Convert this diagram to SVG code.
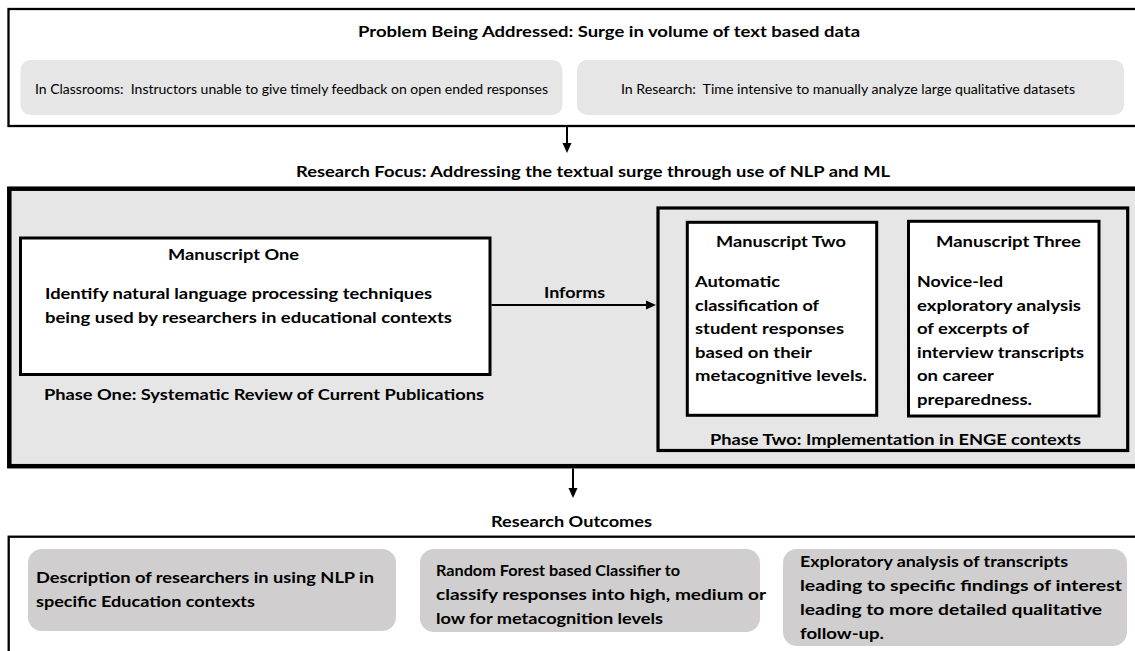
<svg xmlns="http://www.w3.org/2000/svg" width="1135" height="651" viewBox="0 0 1135 651">
  <defs>
    <style>
      text { font-family: Lato, "Liberation Sans", sans-serif; fill: #000; }
      .b { font-weight: 700; font-size: 15.5px; }
      .r { font-weight: 400; font-size: 13.5px; }
      .frame { fill: #fff; stroke: #000; stroke-width: 2.3; }
      .focus { fill: #e7e6e6; stroke: #000; stroke-width: 4.5; }
      .card { fill: #fff; stroke: #000; stroke-width: 3; }
      .phase { fill: #e7e6e6; stroke: #000; stroke-width: 3.2; }
      .pill { fill: #e7e6e6; }
      .pill2 { fill: #d0cece; }
      .link { fill: none; stroke: #000; stroke-width: 2; }
    </style>
    <marker id="head" markerUnits="userSpaceOnUse" markerWidth="10" markerHeight="10" viewBox="0 0 10 10" refX="2" refY="5" orient="auto">
      <path d="M0,0.5 L10,5 L0,9.5 z" fill="#000"/>
    </marker>
  </defs>

  <!-- Problem statement -->
  <g id="problem">
    <rect class="frame" x="8.5" y="9" width="1135" height="117"/>
    <text class="b" x="358" y="36.5" textLength="502" lengthAdjust="spacingAndGlyphs">Problem Being Addressed: Surge in volume of text based data</text>
  </g>
  <g id="problem-classrooms">
    <rect class="pill" x="20.5" y="60" width="542" height="55" rx="10"/>
    <text class="r" x="35" y="94" textLength="513" lengthAdjust="spacingAndGlyphs" xml:space="preserve">In Classrooms:  Instructors unable to give timely feedback on open ended responses</text>
  </g>
  <g id="problem-research">
    <rect class="pill" x="577" y="60" width="547" height="55" rx="10"/>
    <text class="r" x="621" y="94" textLength="454" lengthAdjust="spacingAndGlyphs" xml:space="preserve">In Research:  Time intensive to manually analyze large qualitative datasets</text>
  </g>

  <!-- Research focus -->
  <g id="research-focus">
    <text class="b" x="296" y="176.5" textLength="594" lengthAdjust="spacingAndGlyphs">Research Focus: Addressing the textual surge through use of NLP and ML</text>
    <rect class="focus" x="9.3" y="188.7" width="1135" height="277.5"/>
  </g>

  <g id="manuscript-one">
    <rect class="card" x="20.5" y="238" width="469.5" height="136.5"/>
    <text class="b" x="168" y="260" textLength="131" lengthAdjust="spacingAndGlyphs">Manuscript One</text>
    <text class="b" x="45" y="298.5" textLength="387" lengthAdjust="spacingAndGlyphs">Identify natural language processing techniques</text>
    <text class="b" x="45" y="322.5" textLength="407" lengthAdjust="spacingAndGlyphs">being used by researchers in educational contexts</text>
    <text class="b" x="44" y="399.5" textLength="440" lengthAdjust="spacingAndGlyphs">Phase One: Systematic Review of Current Publications</text>
  </g>

  <g id="phase-two">
    <rect class="phase" x="658" y="208" width="469.7" height="242.5"/>
    <text class="b" x="710" y="444.5" textLength="371" lengthAdjust="spacingAndGlyphs">Phase Two: Implementation in ENGE contexts</text>
  </g>

  <g id="manuscript-two">
    <rect class="card" x="687.3" y="222.3" width="189.4" height="193"/>
    <text class="b" x="716" y="247" textLength="130" lengthAdjust="spacingAndGlyphs">Manuscript Two</text>
    <text class="b" x="695" y="287" textLength="85" lengthAdjust="spacingAndGlyphs">Automatic</text>
    <text class="b" x="695" y="310.5" textLength="124" lengthAdjust="spacingAndGlyphs">classification of</text>
    <text class="b" x="695" y="334" textLength="149" lengthAdjust="spacingAndGlyphs">student responses</text>
    <text class="b" x="695" y="357.5" textLength="117" lengthAdjust="spacingAndGlyphs">based on their</text>
    <text class="b" x="695" y="381" textLength="172" lengthAdjust="spacingAndGlyphs">metacognitive levels.</text>
  </g>

  <g id="manuscript-three">
    <rect class="card" x="908.5" y="221.3" width="190.5" height="194.7"/>
    <text class="b" x="936" y="247" textLength="145" lengthAdjust="spacingAndGlyphs">Manuscript Three</text>
    <text class="b" x="917" y="287" textLength="86" lengthAdjust="spacingAndGlyphs">Novice-led</text>
    <text class="b" x="917" y="310.5" textLength="164" lengthAdjust="spacingAndGlyphs">exploratory analysis</text>
    <text class="b" x="917" y="334" textLength="112" lengthAdjust="spacingAndGlyphs">of excerpts of</text>
    <text class="b" x="917" y="357.5" textLength="167" lengthAdjust="spacingAndGlyphs">interview transcripts</text>
    <text class="b" x="917" y="381" textLength="77" lengthAdjust="spacingAndGlyphs">on career</text>
    <text class="b" x="917" y="404.5" textLength="115" lengthAdjust="spacingAndGlyphs">preparedness.</text>
  </g>

  <!-- Research outcomes -->
  <g id="outcomes">
    <text class="b" x="491" y="527" textLength="161" lengthAdjust="spacingAndGlyphs">Research Outcomes</text>
    <rect class="frame" x="8.7" y="536.7" width="1135" height="130"/>
  </g>
  <g id="outcome-one">
    <rect class="pill2" x="28" y="549" width="368" height="82" rx="14"/>
    <text class="b" x="36" y="583" textLength="338" lengthAdjust="spacingAndGlyphs">Description of researchers in using NLP in</text>
    <text class="b" x="36" y="607" textLength="219" lengthAdjust="spacingAndGlyphs">specific Education contexts</text>
  </g>
  <g id="outcome-two">
    <rect class="pill2" x="420" y="549" width="340" height="83" rx="14"/>
    <text class="b" x="436" y="576" textLength="244" lengthAdjust="spacingAndGlyphs">Random Forest based Classifier to</text>
    <text class="b" x="436" y="600" textLength="330" lengthAdjust="spacingAndGlyphs">classify responses into high, medium or</text>
    <text class="b" x="436" y="624" textLength="227" lengthAdjust="spacingAndGlyphs">low for metacognition levels</text>
  </g>
  <g id="outcome-three">
    <rect class="pill2" x="783" y="549" width="344" height="97" rx="14"/>
    <text class="b" x="800" y="567" textLength="268" lengthAdjust="spacingAndGlyphs">Exploratory analysis of transcripts</text>
    <text class="b" x="800" y="591" textLength="322" lengthAdjust="spacingAndGlyphs">leading to specific findings of interest</text>
    <text class="b" x="800" y="615" textLength="302" lengthAdjust="spacingAndGlyphs">leading to more detailed qualitative</text>
    <text class="b" x="800" y="639" textLength="84" lengthAdjust="spacingAndGlyphs">follow-up.</text>
  </g>

  <!-- Connectors -->
  <g id="connectors">
    <line class="link" x1="567" y1="127" x2="567" y2="145" marker-end="url(#head)"/>
    <line class="link" x1="491.5" y1="305" x2="648" y2="305" marker-end="url(#head)"/>
    <text class="b" x="544" y="298" textLength="61" lengthAdjust="spacingAndGlyphs">Informs</text>
    <line class="link" x1="573" y1="468.5" x2="573" y2="490" marker-end="url(#head)"/>
  </g>
</svg>
